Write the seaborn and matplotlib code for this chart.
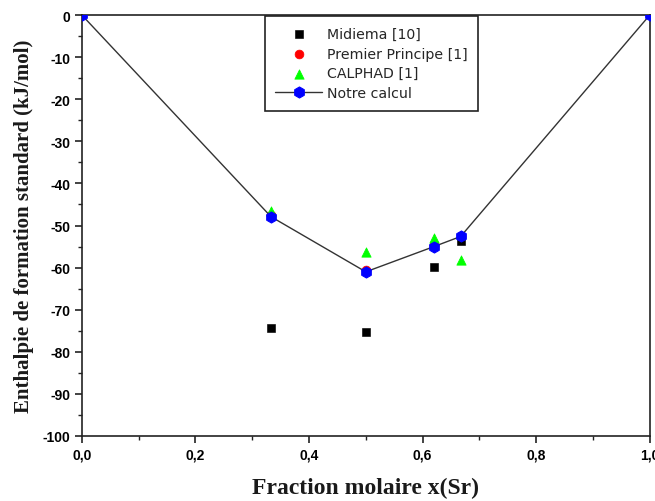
import matplotlib
matplotlib.use("Agg")
import matplotlib.pyplot as plt
from matplotlib.ticker import MultipleLocator, FixedLocator, FixedFormatter
import seaborn as sns

sns.set_theme(style="ticks")
plt.rcParams["font.family"] = ["Liberation Sans", "DejaVu Sans"]
plt.rcParams["axes.unicode_minus"] = False

# data
x_midiema = [0.333, 0.5, 0.62, 0.667]
y_midiema = [-74.3, -75.2, -59.8, -53.6]

x_premier = [0.333, 0.5, 0.62, 0.667]
y_premier = [-47.6, -60.6, -54.6, -52.4]

x_calphad = [0.333, 0.5, 0.62, 0.667]
y_calphad = [-46.6, -56.4, -52.9, -58.3]

x_notre = [0.0, 0.333, 0.5, 0.62, 0.667, 1.0]
y_notre = [0.0, -47.9, -61.0, -55.0, -52.6, 0.0]

x_ticks = [0.0, 0.2, 0.4, 0.6, 0.8, 1.0]
x_labels = ["0,0", "0,2", "0,4", "0,6", "0,8", "1,0"]
y_ticks = list(range(0, -101, -10))

fig = plt.figure(figsize=(6.55, 5.02), dpi=100)
ax = fig.add_axes([0.125, 0.1295, 0.867, 0.8385])

sns.lineplot(x=x_notre, y=y_notre, ax=ax, color="#333333", lw=1.0,
             marker="h", markersize=8, markerfacecolor="#0000ff",
             markeredgecolor="#0000ff", label="Notre calcul", sort=False)
sns.scatterplot(x=x_midiema, y=y_midiema, ax=ax, marker="s", s=28,
                color="#000000", edgecolor="#000000", label="Midiema [10]", zorder=2)
sns.scatterplot(x=x_premier, y=y_premier, ax=ax, marker="o", s=40,
                color="#ff0000", edgecolor="#ff0000", label="Premier Principe [1]", zorder=2)
sns.scatterplot(x=x_calphad, y=y_calphad, ax=ax, marker="^", s=45,
                color="#00ff00", edgecolor="#00ff00", label="CALPHAD [1]", zorder=2)
# blue markers on top of the others
ax.lines[0].set_zorder(3)

ax.set_xlim(0, 1.0)
ax.set_ylim(-100, 0)
ax.xaxis.set_major_locator(FixedLocator(x_ticks))
ax.xaxis.set_major_formatter(FixedFormatter(x_labels))
ax.xaxis.set_minor_locator(MultipleLocator(0.1))
ax.set_yticks(y_ticks)
ax.yaxis.set_minor_locator(MultipleLocator(5))

for s in ax.spines.values():
    s.set_color("#222222")
    s.set_linewidth(1.2)
ax.tick_params(which="major", direction="out", length=5, width=1.2,
               labelsize=10, colors="#222222")
ax.tick_params(which="minor", direction="out", length=3, width=1.0, colors="#222222")
for lab in ax.get_xticklabels() + ax.get_yticklabels():
    lab.set_fontweight("bold")
    lab.set_color("black")

ax.set_xlabel("Fraction molaire x(Sr)", family=["Liberation Serif", "DejaVu Serif"],
              fontsize=17, fontweight="bold", color="#1a1a1a")
ax.set_ylabel("Enthalpie de formation standard (kJ/mol)",
              family=["Liberation Serif", "DejaVu Serif"],
              fontsize=15, fontweight="bold", color="#1a1a1a")
ax.xaxis.set_label_coords(0.5, -0.097)
ax.yaxis.set_label_coords(-0.084, 0.5)

handles, labels = ax.get_legend_handles_labels()
order = ["Midiema [10]", "Premier Principe [1]", "CALPHAD [1]", "Notre calcul"]
hmap = dict(zip(labels, handles))
leg = ax.legend([hmap[k] for k in order], order, loc="upper left",
                bbox_to_anchor=(0.322, 0.997), frameon=True,
                prop={"family": "DejaVu Sans", "size": 10.2},
                fancybox=False, framealpha=1, edgecolor="#222222",
                handlelength=3.3, labelspacing=0.4, borderpad=0.75,
                handletextpad=0.36, borderaxespad=0)
leg.get_frame().set_linewidth(1.2)

fig.savefig("out.png", dpi=100)
